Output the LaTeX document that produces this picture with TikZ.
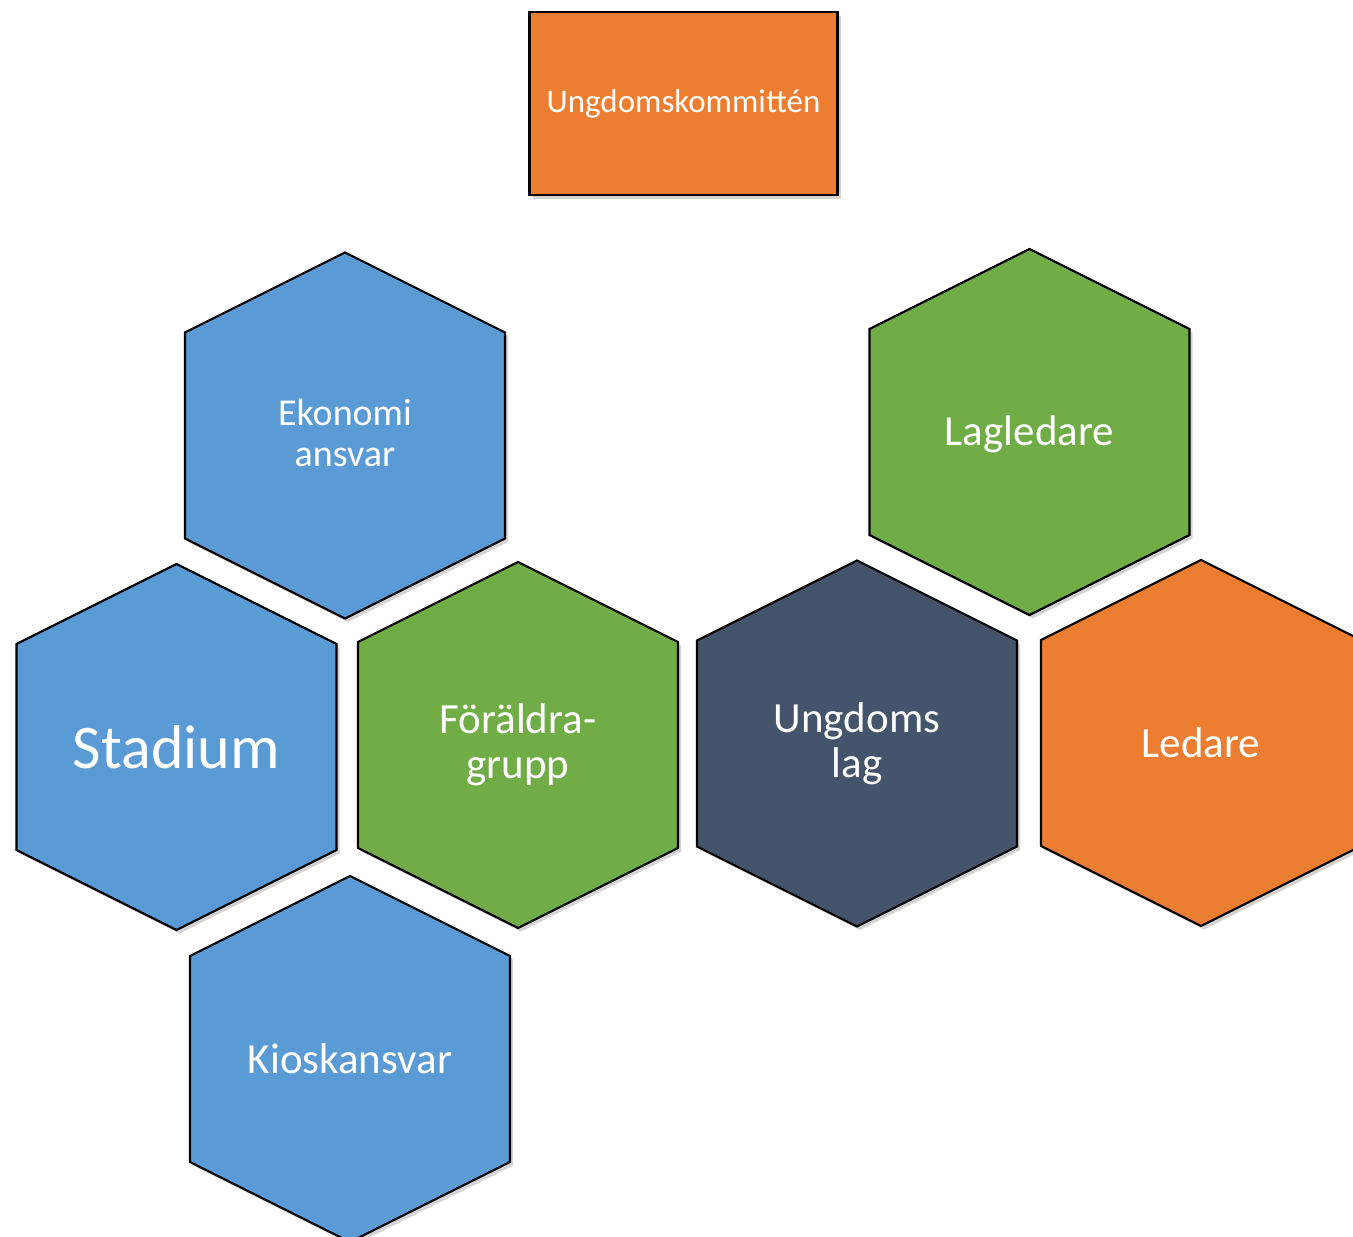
\documentclass[tikz,border=0pt]{standalone}
\usepackage{fontspec}
\setmainfont{Carlito}
\usetikzlibrary{shadows}

\definecolor{hexblue}{HTML}{5B9BD5}
\definecolor{hexgreen}{HTML}{70AD47}
\definecolor{hexnavy}{HTML}{44546A}
\definecolor{hexorange}{HTML}{ED7D31}

\tikzset{
  hexa/.style={draw=black, line width=2.2pt, line join=miter,
    drop shadow={opacity=0.35, shadow xshift=3pt, shadow yshift=-3.5pt}},
  hexlabel/.style={text=white, align=center, inner sep=0pt,
    font=\fontsize{43}{45}\selectfont},
  boxo/.style={draw=black, line width=2.2pt, fill=hexorange, text=white,
    minimum width=308pt, minimum height=183pt, inner sep=0pt,
    font=\fontsize{33}{35}\selectfont,
    drop shadow={opacity=0.35, shadow xshift=3pt, shadow yshift=-3.5pt}}
}

\begin{document}
\begin{tikzpicture}[x=1pt, y=-1pt]
  \useasboundingbox (0,0) rectangle (1353,1237);
  \clip (0,0) rectangle (1353,1237);
  % Committee box
  \node[boxo] (kommitte) at (683.5,103.5) {Ungdomskommittén};
  % Hexagons
  \foreach \n/\x/\y/\c in {ekonomi/345/435.5/hexblue, stadium/176.5/747/hexblue,
      foraldra/518/745/hexgreen, kiosk/350/1059/hexblue,
      lagledare/1029.5/432/hexgreen, ungdomslag/857/743.5/hexnavy,
      ledare/1201/743/hexorange} {
    \draw[hexa, fill=\c] (\x,\y) +(0,-183) -- +(160,-103) -- +(160,103)
      -- +(0,183) -- +(-160,103) -- +(-160,-103) -- cycle;
    \coordinate (\n) at (\x,\y);
  }
  % Labels
  \node[hexlabel, font=\fontsize{38}{41}\selectfont] (ekonomi-txt) at ([yshift=3pt]ekonomi) {Ekonomi\\ansvar};
  \node[hexlabel, font=\fontsize{62}{64}\selectfont] (stadium-txt) at (stadium) {Stadium};
  \node[hexlabel] (foraldra-txt) at (foraldra) {Föräldra-\\grupp};
  \node[hexlabel] (kiosk-txt) at (kiosk) {Kioskansvar};
  \node[hexlabel] (lagledare-txt) at ([yshift=-2pt]lagledare) {Lagledare};
  \node[hexlabel] (ungdomslag-txt) at (ungdomslag) {Ungdoms\\lag};
  \node[hexlabel] (ledare-txt) at (ledare) {Ledare};
\end{tikzpicture}
\end{document}
